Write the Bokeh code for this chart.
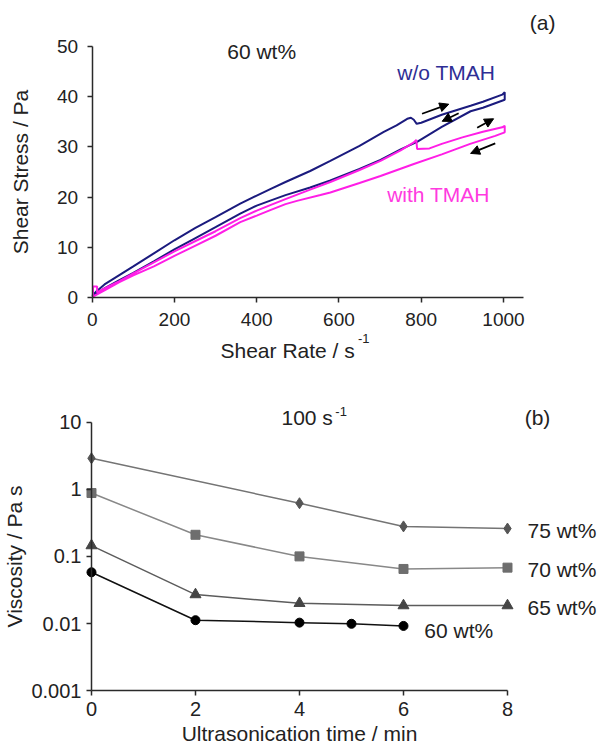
from bokeh.plotting import figure
from bokeh.models import (Range1d, FixedTicker, Label, Arrow, NormalHead,
                          CustomJSTickFormatter, ColumnDataSource)
from bokeh.layouts import column
from bokeh.embed import file_html
from bokeh.resources import INLINE

FONT = "Liberation Sans"

# ---------------- panel (a) data: shear stress vs shear rate, 60 wt% -------------
blue_x = [0, 10, 30, 65, 100, 150, 200, 250, 300, 360, 400, 433, 470, 530, 579, 650, 709, 740,
          766, 775, 782, 789, 800, 850, 920, 950, 997, 1003,
          1003, 950, 920, 850, 790, 750, 701, 650, 579, 530, 470, 433, 400, 360,
          300, 250, 200, 150, 100, 65, 30, 10, 0]
blue_y = [0.3, 1.2, 2.6, 4.4, 6.2, 8.8, 11.4, 13.8, 16.0, 18.7, 20.3, 21.6, 23.0, 25.2, 27.2, 30.2, 33.0, 34.3,
          35.6, 35.8, 35.4, 34.6, 34.8, 36.4, 38.2, 39.0, 40.4, 40.9,
          39.4, 37.8, 37.1, 34.0, 31.0, 29.5, 27.4, 25.6, 23.3, 21.9, 20.4, 19.3, 18.3, 16.7,
          14.0, 11.8, 9.6, 7.2, 4.9, 3.4, 1.8, 0.8, 0.3]

pink_x = [2, 2, 12, 12, 30, 65, 100, 150, 200, 250, 300, 360, 400, 433, 470, 530, 579, 650, 701,
          750, 782, 788, 790, 820, 850, 900, 950, 997, 1003,
          1003, 980, 919, 850, 782, 701, 650, 579, 555, 500, 470, 433, 400, 360, 300,
          250, 200, 150, 100, 65, 30, 2]
pink_y = [0.2, 2.2, 2.2, 1.0, 1.8, 3.2, 4.8, 7.0, 9.2, 11.2, 13.2, 15.8, 17.3, 18.4, 19.6, 21.5, 23.0, 25.4, 27.2,
          29.3, 30.9, 31.4, 29.6, 29.7, 30.6, 31.9, 33.0, 33.9, 34.2,
          32.9, 32.2, 30.6, 28.5, 26.6, 24.2, 22.8, 20.9, 20.4, 19.3, 18.6, 17.4, 16.3, 15.0, 12.3,
          10.3, 8.3, 6.2, 4.4, 3.0, 1.4, 0.2]

arrow_x0 = [802, 891, 936, 980]
arrow_y0 = [36.6, 36.7, 33.8, 30.7]
arrow_x1 = [867, 851, 976, 920]
arrow_y1 = [38.5, 35.1, 35.6, 28.7]

a_xticks = [0, 200, 400, 600, 800, 1000]
a_yticks = [0, 10, 20, 30, 40, 50]

# ---------------- panel (b) data: viscosity vs ultrasonication time -------------
t75 = [0, 4, 6, 8]
v75 = [2.9, 0.62, 0.28, 0.26]
t70 = [0, 2, 4, 6, 8]
v70 = [0.88, 0.21, 0.10, 0.065, 0.068]
t65 = [0, 2, 4, 6, 8]
v65 = [0.145, 0.027, 0.020, 0.0185, 0.0185]
t60 = [0, 2, 4, 5, 6]
v60 = [0.058, 0.0112, 0.0103, 0.0099, 0.0092]

b_xticks = [0, 2, 4, 6, 8]
b_yticks = [0.001, 0.01, 0.1, 1, 10]

AX = "#2a2a2a"
W, H = 597, 372


def style_axes(p, tick_size):
    for ax in list(p.xaxis) + list(p.yaxis):
        ax.axis_line_color = AX
        ax.axis_line_width = 1.5
        ax.major_tick_line_color = AX
        ax.major_tick_line_width = 1.5
        ax.major_tick_in = 0
        ax.major_tick_out = 5
        ax.minor_tick_line_color = None
        ax.major_label_text_font = FONT
        ax.major_label_text_font_size = tick_size
        ax.major_label_text_color = "#222222"
        ax.axis_label_text_font = FONT
        ax.axis_label_text_font_size = "21px"
        ax.axis_label_text_font_style = "normal"
        ax.axis_label_text_color = "#222222"
    p.xgrid.visible = False
    p.ygrid.visible = False
    p.outline_line_color = None
    p.background_fill_color = "white"
    p.border_fill_color = "white"
    p.min_border = 0


def lab(p, x, y, text, size="21px", color="#222222", align="center"):
    p.add_layout(Label(x=x, y=y, text=text, text_font=FONT, text_font_size=size,
                       text_color=color, text_align=align, text_baseline="middle"))


# ---------------- figure (a) ----------------
p1 = figure(width=W, height=H, x_range=Range1d(-222.9, 1228.6), y_range=Range1d(-14.94, 59.16),
            output_backend="svg", toolbar_location=None)
style_axes(p1, "19px")
p1.xaxis.ticker = FixedTicker(ticks=a_xticks)
p1.yaxis.ticker = FixedTicker(ticks=a_yticks)
p1.xaxis.bounds = (0, 1049)
p1.yaxis.bounds = (0, 50)
p1.xaxis.fixed_location = 0
p1.yaxis.fixed_location = 0
p1.yaxis.axis_label = "Shear Stress / Pa"
p1.yaxis.major_label_standoff = 9
p1.yaxis.axis_label_standoff = 22
p1.xaxis.major_label_standoff = 11

p1.line(blue_x, blue_y, line_color="#1b1b7e", line_width=2)
p1.line(pink_x, pink_y, line_color="#ff1ee6", line_width=2)

asrc = ColumnDataSource(dict(x0=arrow_x0, y0=arrow_y0, x1=arrow_x1, y1=arrow_y1))
p1.add_layout(Arrow(end=NormalHead(size=9, fill_color="black", line_color="black"),
                    x_start="x0", y_start="y0", x_end="x1", y_end="y1",
                    line_color="black", line_width=1.8, source=asrc))

lab(p1, 1095, 54.8, "(a)")
lab(p1, 412, 49.1, "60 wt%")
lab(p1, 861, 44.8, "w/o TMAH", color="#2e2e95")
lab(p1, 842, 20.5, "with TMAH", color="#ff3ae0")
lab(p1, 312, -10.6, "Shear Rate / s", align="left")
lab(p1, 646, -8.1, "-1", size="13px", align="left")

# ---------------- figure (b) ----------------
p2 = figure(width=W, height=H, x_range=Range1d(-1.75, 9.731), y_range=Range1d(1.573e-4, 55.05),
            y_axis_type="log", output_backend="svg", toolbar_location=None)
style_axes(p2, "20px")
p2.xaxis.ticker = FixedTicker(ticks=b_xticks)
p2.yaxis.ticker = FixedTicker(ticks=b_yticks)
p2.xaxis.bounds = (0, 8)
p2.yaxis.bounds = (0.001, 10)
p2.xaxis.fixed_location = 0.001
p2.yaxis.fixed_location = 0
p2.yaxis.formatter = CustomJSTickFormatter(
    code="return tick >= 1 ? tick.toFixed(0) : tick.toPrecision(1);")
p2.yaxis.axis_label = "Viscosity / Pa s"
p2.xaxis.axis_label = "Ultrasonication time / min"
p2.yaxis.major_label_standoff = 5
p2.yaxis.axis_label_standoff = 2
p2.xaxis.major_label_standoff = 6
p2.xaxis.axis_label_standoff = 3

p2.line(t75, v75, line_color="#747474", line_width=1.5)
p2.scatter(t75, v75, marker="diamond", size=11, fill_color="#555555", line_color="#555555")
p2.line(t70, v70, line_color="#888888", line_width=1.5)
p2.scatter(t70, v70, marker="square", size=9, fill_color="#6e6e6e", line_color="#6e6e6e")
p2.line(t65, v65, line_color="#5c5c5c", line_width=1.5)
p2.scatter(t65, v65, marker="triangle", size=11, fill_color="#454545", line_color="#454545")
p2.line(t60, v60, line_color="#111111", line_width=1.5)
p2.scatter(t60, v60, marker="circle", size=9, fill_color="black", line_color="black")

lab(p2, 8.385, 0.24, "75 wt%", align="left")
lab(p2, 8.385, 0.0647, "70 wt%", align="left")
lab(p2, 8.385, 0.0173, "65 wt%", align="left")
lab(p2, 6.40, 0.0079, "60 wt%", align="left")
lab(p2, 3.654, 11.75, "100 s", align="left")
lab(p2, 4.69, 14.4, "-1", size="13px", align="left")
lab(p2, 8.577, 11.75, "(b)")

layout = column(p1, p2)
open("out.html", "w").write(file_html(layout, INLINE))
